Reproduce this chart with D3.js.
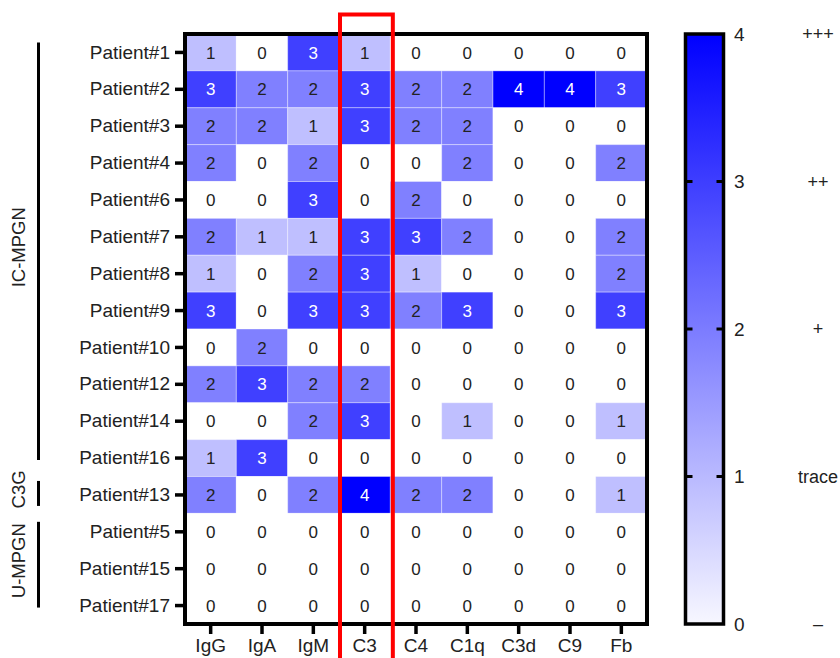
<!DOCTYPE html>
<html>
<head>
<meta charset="utf-8">
<script src="https://cdn.jsdelivr.net/npm/d3@7/dist/d3.min.js"></script>
<style>
  html, body { margin: 0; padding: 0; background: #fff; }
  svg { display: block; font-family: "Liberation Sans", Arial, Helvetica, sans-serif; }
</style>
</head>
<body>
<svg id="chart" width="840" height="658"></svg>
<script>
// Staining markers (columns)
const markers = ["IgG", "IgA", "IgM", "C3", "C4", "C1q", "C3d", "C9", "Fb"];

// Patients (rows, top to bottom)
const patients = ["Patient#1", "Patient#2", "Patient#3", "Patient#4", "Patient#6",
  "Patient#7", "Patient#8", "Patient#9", "Patient#10", "Patient#12", "Patient#14",
  "Patient#16", "Patient#13", "Patient#5", "Patient#15", "Patient#17"];

// Staining intensity score per patient, in marker order
const scores = [
  [1, 0, 3, 1, 0, 0, 0, 0, 0],
  [3, 2, 2, 3, 2, 2, 4, 4, 3],
  [2, 2, 1, 3, 2, 2, 0, 0, 0],
  [2, 0, 2, 0, 0, 2, 0, 0, 2],
  [0, 0, 3, 0, 2, 0, 0, 0, 0],
  [2, 1, 1, 3, 3, 2, 0, 0, 2],
  [1, 0, 2, 3, 1, 0, 0, 0, 2],
  [3, 0, 3, 3, 2, 3, 0, 0, 3],
  [0, 2, 0, 0, 0, 0, 0, 0, 0],
  [2, 3, 2, 2, 0, 0, 0, 0, 0],
  [0, 0, 2, 3, 0, 1, 0, 0, 1],
  [1, 3, 0, 0, 0, 0, 0, 0, 0],
  [2, 0, 2, 4, 2, 2, 0, 0, 1],
  [0, 0, 0, 0, 0, 0, 0, 0, 0],
  [0, 0, 0, 0, 0, 0, 0, 0, 0],
  [0, 0, 0, 0, 0, 0, 0, 0, 0]
];

// Diagnosis groups: first and last patient of each bracket
const groupNames = ["IC-MPGN", "C3G", "U-MPGN"];
const groupFirst = ["Patient#1", "Patient#13", "Patient#5"];
const groupLast = ["Patient#16", "Patient#13", "Patient#17"];

// Colour bar ticks and semi-quantitative grades
const scaleTicks = [0, 1, 2, 3, 4];
const gradeLabels = ["\u2013", "trace", "+", "++", "+++"];

// Highlighted marker column
const highlighted = "C3";

const svg = d3.select("#chart");
const ink = "#222";
const font = "Liberation Sans, Arial, sans-serif";

const plot = { left: 185, right: 647, top: 34, bottom: 624 };

const x = d3.scaleBand().domain(markers).range([plot.left, plot.right]).padding(0);
const y = d3.scaleBand().domain(patients).range([plot.top, plot.bottom]).padding(0);
const color = d3.scaleLinear().domain([0, 4]).range(["#ffffff", "#0000ff"]);

const cells = [];
patients.forEach((p, i) => markers.forEach((m, j) => cells.push({ p, m, v: scores[i][j] })));

// Heatmap cells
svg.append("g").selectAll("rect").data(cells).join("rect")
  .attr("x", d => x(d.m))
  .attr("y", d => y(d.p))
  .attr("width", x.bandwidth())
  .attr("height", y.bandwidth())
  .attr("fill", d => color(d.v))
  .attr("stroke", "rgba(255,255,255,0.35)")
  .attr("stroke-width", 1);

// Cell values
svg.append("g").selectAll("text").data(cells).join("text")
  .attr("x", d => x(d.m) + x.bandwidth() / 2)
  .attr("y", d => y(d.p) + y.bandwidth() / 2)
  .attr("text-anchor", "middle")
  .attr("dy", "0.36em")
  .attr("font-size", 17)
  .attr("fill", d => d.v >= 3 ? "#fff" : ink)
  .text(d => d.v);

// Frame
svg.append("rect")
  .attr("x", plot.left).attr("y", plot.top)
  .attr("width", plot.right - plot.left).attr("height", plot.bottom - plot.top)
  .attr("fill", "none").attr("stroke", "#000").attr("stroke-width", 4);

// Axes
const yAxis = svg.append("g")
  .attr("transform", `translate(${plot.left},0)`)
  .call(d3.axisLeft(y).tickSize(10).tickPadding(5));
yAxis.select(".domain").remove();
yAxis.selectAll(".tick line").attr("stroke", "#000").attr("stroke-width", 3.5);
yAxis.selectAll(".tick text").attr("font-size", 19).attr("fill", ink)
  .attr("font-family", font);

const xAxis = svg.append("g")
  .attr("transform", `translate(0,${plot.bottom})`)
  .call(d3.axisBottom(x).tickSize(10).tickPadding(5));
xAxis.select(".domain").remove();
xAxis.selectAll(".tick line").attr("stroke", "#000").attr("stroke-width", 3.5);
xAxis.selectAll(".tick text").attr("font-size", 19).attr("fill", ink)
  .attr("font-family", font);

// Group brackets
const bx = 38.5;
groupNames.forEach((g, i) => {
  const c0 = y(groupFirst[i]) + y.bandwidth() / 2;
  const c1 = y(groupLast[i]) + y.bandwidth() / 2;
  let top = c0 - 10, bot = c1 + 2;
  if (bot - top < 26) { const mid = (c0 + c1) / 2; top = mid - 14; bot = mid + 11; }
  svg.append("line")
    .attr("x1", bx).attr("x2", bx).attr("y1", top).attr("y2", bot)
    .attr("stroke", "#000").attr("stroke-width", 3);
  svg.append("text")
    .attr("transform", `translate(18,${(top + bot) / 2 - 4}) rotate(-90)`)
    .attr("text-anchor", "middle")
    .attr("dy", "0.36em")
    .attr("font-size", 18.5)
    .attr("fill", ink)
    .text(g);
});

// Colour bar
const cb = { left: 685.5, right: 723.5 };
const cy = d3.scaleLinear().domain([0, 4]).range([plot.bottom, plot.top]);
const defs = svg.append("defs");
const grad = defs.append("linearGradient").attr("id", "cbGrad")
  .attr("x1", 0).attr("y1", 1).attr("x2", 0).attr("y2", 0);
grad.append("stop").attr("offset", "0%").attr("stop-color", "#f7f7ff");
grad.append("stop").attr("offset", "100%").attr("stop-color", color(4));

svg.append("rect")
  .attr("x", cb.left).attr("y", cy(4))
  .attr("width", cb.right - cb.left).attr("height", cy(0) - cy(4))
  .attr("fill", "url(#cbGrad)")
  .attr("stroke", "#000").attr("stroke-width", 3.5);

const inner = scaleTicks.filter(t => t > 0 && t < 4);
svg.append("g").selectAll("line.l").data(inner).join("line")
  .attr("x1", cb.left).attr("x2", cb.left + 7)
  .attr("y1", d => cy(d)).attr("y2", d => cy(d))
  .attr("stroke", "#000").attr("stroke-width", 3);
svg.append("g").selectAll("line.r").data(inner).join("line")
  .attr("x1", cb.right - 7).attr("x2", cb.right)
  .attr("y1", d => cy(d)).attr("y2", d => cy(d))
  .attr("stroke", "#000").attr("stroke-width", 3);

svg.append("g").selectAll("text").data(scaleTicks).join("text")
  .attr("x", 734)
  .attr("y", d => cy(d))
  .attr("dy", "0.36em")
  .attr("font-size", 19)
  .attr("fill", ink)
  .text(d => d);

svg.append("g").selectAll("text").data(scaleTicks).join("text")
  .attr("x", 818)
  .attr("y", d => cy(d))
  .attr("dy", "0.36em")
  .attr("text-anchor", "middle")
  .attr("font-size", 18)
  .attr("fill", ink)
  .text((d, i) => gradeLabels[i]);

// Highlight box around the C3 column
svg.append("rect")
  .attr("x", x(highlighted) + 1)
  .attr("y", 14.5)
  .attr("width", x.bandwidth() + 1.5)
  .attr("height", 680)
  .attr("fill", "none")
  .attr("stroke", "#ff0000")
  .attr("stroke-width", 4);
</script>
</body>
</html>
